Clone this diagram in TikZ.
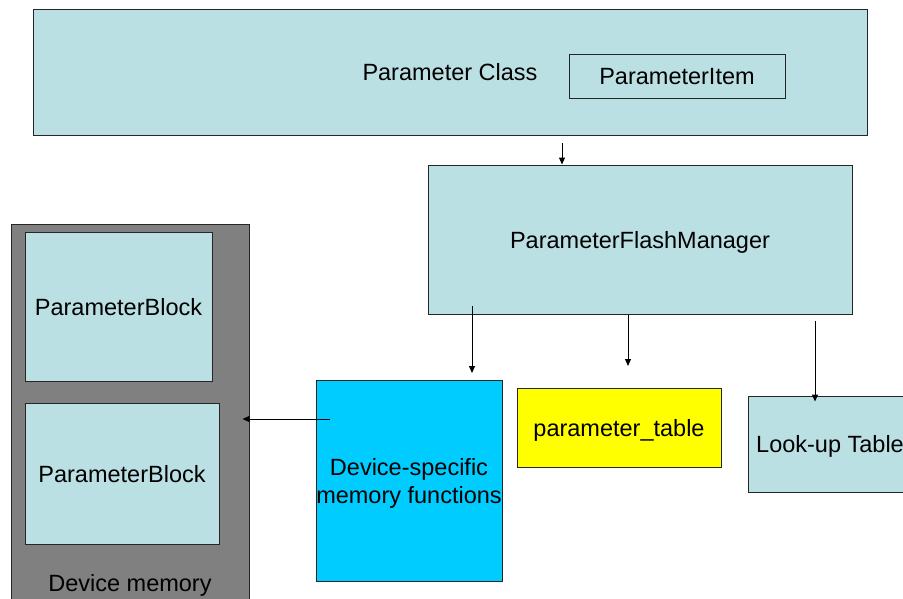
\documentclass[tikz,border=0pt]{standalone}
\usepackage{fontspec}
\setmainfont{Liberation Sans}
\usetikzlibrary{arrows.meta}
\definecolor{paleblue}{HTML}{BBE0E3}
\definecolor{cyanbox}{HTML}{00CCFF}
\definecolor{yellowbox}{HTML}{FFFF00}
\definecolor{memgray}{HTML}{808080}
\tikzset{
  lbl/.style={font=\fontsize{23.5}{28}\selectfont},
  box/.style={draw=black!85, line width=1pt, rectangle, inner sep=0pt, align=center,
              text depth=0pt, lbl},
  arr/.style={line width=1pt, -{Triangle[length=7pt,width=6pt]}},
}
\begin{document}
\begin{tikzpicture}[x=1pt,y=-1pt]
\useasboundingbox (0,0) rectangle (903,598);
\clip (0,0) rectangle (903,598);
\fill[white] (0,0) rectangle (903,598);

% top class with its item
\node[box, fill=paleblue, minimum width=834pt, minimum height=126pt] (pclass) at (450,72) {Parameter Class};
\node[box, fill=paleblue, minimum width=216pt, minimum height=44pt] (pitem) at (677,76) {ParameterItem};

% flash manager
\node[box, fill=paleblue, minimum width=424pt, minimum height=149pt] (pfm) at (640,239.5) {ParameterFlashManager};

% device memory with its blocks
\node[box, fill=memgray, minimum width=238pt, minimum height=400pt] (devmem) at (130,424) {};
\node[box, fill=paleblue, minimum width=187pt, minimum height=149pt] (pb1) at (118.5,306.5) {ParameterBlock};
\node[box, fill=paleblue, minimum width=194pt, minimum height=141pt] (pb2) at (122,473.5) {ParameterBlock};
\node[lbl, inner sep=0pt] (devlabel) at (130,585) {Device memory};

% lower row
\node[box, fill=cyanbox, minimum width=186pt, minimum height=201pt] (devfn) at (409,480.5) {Device-specific\\memory functions};
\node[box, fill=yellowbox, minimum width=204pt, minimum height=79pt] (ptable) at (619,427.5) {parameter\_table};
\node[box, fill=paleblue, minimum width=164pt, minimum height=96pt] (lut) at (830,444) {Look-up Table};

% connector ends
\coordinate (c0s) at (562,143);
\coordinate (c1s) at (472,306);
\coordinate (c1e) at (472,373);
\coordinate (c2e) at (628,366);
\coordinate (c3s) at (815,321);
\coordinate (c4s) at (330,419);

\draw[arr] (c0s) -- (pfm.north -| c0s);
\draw[arr] (c1s) -- (c1e);
\draw[arr] (pfm.south -| c2e) -- (c2e);
\draw[arr] (c3s) -- ([yshift=-6pt]lut.north -| c3s);
\draw[arr] (c4s) -- ([xshift=-7pt]devmem.east |- c4s);
\end{tikzpicture}
\end{document}
